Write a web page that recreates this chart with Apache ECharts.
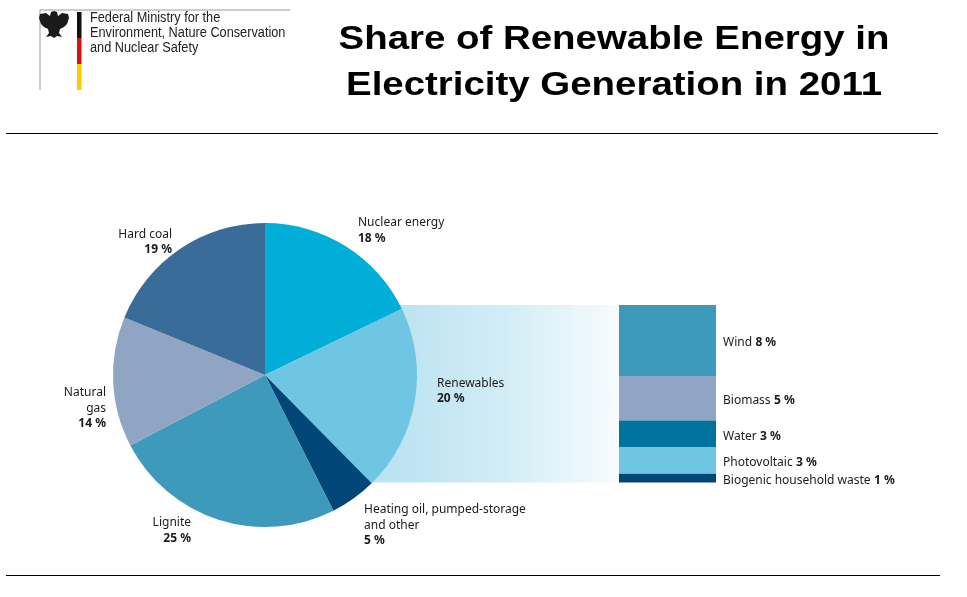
<!DOCTYPE html>
<html>
<head>
<meta charset="utf-8">
<script src="https://cdn.jsdelivr.net/npm/echarts@6/dist/echarts.min.js"></script>
<style>html,body{margin:0;padding:0;background:#fff;}#c{width:967px;height:597px;}</style>
</head>
<body>
<div id="c"></div>
<script>
// ---- data ----
const pieNames = ['Nuclear energy', 'Renewables', 'Heating oil, pumped-storage\nand other', 'Lignite', 'Natural\ngas', 'Hard coal'];
const pieValues = [18, 20, 5, 25, 14, 19];
const barNames = ['Wind', 'Biomass', 'Water', 'Photovoltaic', 'Biogenic household waste'];
const barValues = [8, 5, 3, 3, 1];
const titleLines = ['Share of Renewable Energy in', 'Electricity Generation in 2011'];
const ministryLines = ['Federal Ministry for the', 'Environment, Nature Conservation', 'and Nuclear Safety'];

// ---- styles ----
const pieColors = ['#00aed8', '#6ec6e2', '#004677', '#3e9aba', '#90a5c4', '#3a6c99'];
const barColors = ['#3e9aba', '#90a5c4', '#00739e', '#6ec6e2', '#004677'];
const pieLabelPos = [
  [358, 215, 'left'], [437, 375.5, 'left'], [364, 502, 'left'],
  [191, 515, 'right'], [106, 385, 'right'], [172, 226.5, 'right']
];
const FONT = '"Noto Sans", sans-serif';
const rich = {
  n: { fontFamily: FONT, fontSize: 12, color: '#1a1a1a', lineHeight: 15.5 },
  v: { fontFamily: FONT, fontSize: 12, color: '#1a1a1a', lineHeight: 15.5, fontWeight: 'bold' }
};
const eagle = [[54,11],[57,12],[58,16],[62,13],[68,14],[69,18],[67,24],[64,27],[60,29],[59,33],[62,37],[57,36],[54,38],[51,36],[46,37],[49,33],[48,29],[44,27],[41,24],[39,18],[40,14],[46,13],[50,16],[51,12]];

const chart = echarts.init(document.getElementById('c'), null, { renderer: 'canvas' });

const graphics = [
  { type: 'line', shape: { x1: 6, y1: 133.5, x2: 938, y2: 133.5 }, style: { stroke: '#000', lineWidth: 1.2 } },
  { type: 'line', shape: { x1: 6, y1: 575.5, x2: 940, y2: 575.5 }, style: { stroke: '#000', lineWidth: 1.2 } },
  { type: 'line', shape: { x1: 40, y1: 10, x2: 290, y2: 10 }, style: { stroke: '#9a9a9a', lineWidth: 1 } },
  { type: 'line', shape: { x1: 40, y1: 10, x2: 40, y2: 90 }, style: { stroke: '#9a9a9a', lineWidth: 1 } },
  { type: 'rect', shape: { x: 77, y: 12, width: 4.5, height: 26 }, style: { fill: '#111' } },
  { type: 'rect', shape: { x: 77, y: 38, width: 4.5, height: 26 }, style: { fill: '#dd1010' } },
  { type: 'rect', shape: { x: 77, y: 64, width: 4.5, height: 26 }, style: { fill: '#ffcc00' } },
  { type: 'polygon', shape: { points: eagle }, style: { fill: '#1a1a1a' } },
  { type: 'rect', z: -10, shape: { x: 340, y: 305, width: 279, height: 177.5 },
    style: { fill: new echarts.graphic.LinearGradient(0, 0, 1, 0, [
      { offset: 0, color: '#bce3f1' }, { offset: 0.2, color: '#bce3f1' }, { offset: 0.6, color: '#d3edf6' }, { offset: 1, color: '#f7fbfd' }]) } }
];
ministryLines.forEach((t, i) => graphics.push({
  type: 'text', x: 90, y: 18 + i * 15, scaleX: 0.91,
  style: { text: t, fontFamily: '"Liberation Sans", Arial, sans-serif', fontSize: 14, fill: '#222', verticalAlign: 'middle', align: 'left' }
}));
titleLines.forEach((t, i) => graphics.push({
  type: 'text', x: 614, y: 40 + i * 46, scaleX: 1.13,
  style: { text: t, fontFamily: '"Liberation Sans", Arial, sans-serif', fontWeight: 'bold', fontSize: 34, fill: '#000', verticalAlign: 'middle', align: 'center' }
}));

const option = {
  backgroundColor: '#fff',
  animation: false,
  graphic: graphics,
  grid: { left: 619, top: 305, width: 97, height: 177.5 },
  xAxis: { type: 'category', data: ['Renewables'], show: false },
  yAxis: { type: 'value', min: 0, max: 20, inverse: true, show: false },
  series: [
    {
      type: 'pie', center: [265, 375], radius: 152, startAngle: 90, clockwise: true,
      avoidLabelOverlap: false, z: 3,
      data: pieNames.map((n, i) => ({ name: n, value: pieValues[i], itemStyle: { color: pieColors[i] } })),
      label: {
        show: true, position: 'outside', rich: rich,
        formatter: p => p.name.split('\n').map(s => '{n|' + s + '}').join('\n') + '\n{v|' + p.value + ' %}'
      },
      labelLine: { show: false },
      labelLayout: p => {
        const q = pieLabelPos[p.dataIndex];
        return { x: q[0], y: q[1], align: q[2], verticalAlign: 'top' };
      }
    }
  ].concat(barNames.map((n, i) => ({
    type: 'bar', name: n, stack: 'ren', barWidth: '100%', z: 3,
    data: [barValues[i]], itemStyle: { color: barColors[i] },
    label: {
      show: true, position: 'right', distance: 7, offset: [0, 2.5], rich: rich,
      formatter: p => '{n|' + p.seriesName + '} {v|' + p.value + ' %}'
    }
  })))
};
chart.setOption(option);
</script>
</body>
</html>
